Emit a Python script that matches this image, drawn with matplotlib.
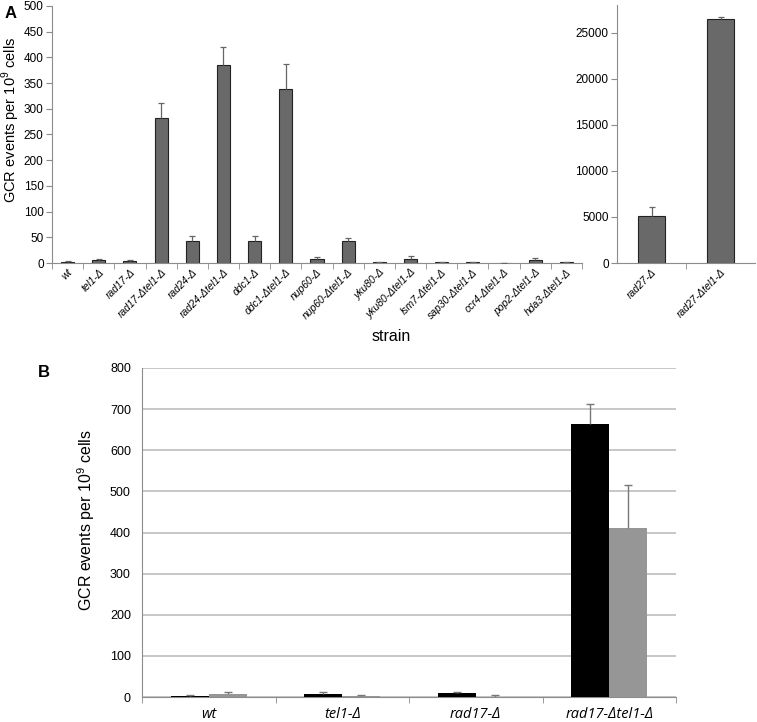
import numpy as np
import matplotlib.pyplot as plt

# panel A, left part
strains_a = ['wt', 'tel1-Δ', 'rad17-Δ', 'rad17-Δtel1-Δ', 'rad24-Δ', 'rad24-Δtel1-Δ',
             'ddc1-Δ', 'ddc1-Δtel1-Δ', 'nup60-Δ', 'nup60-Δtel1-Δ', 'yku80-Δ',
             'yku80-Δtel1-Δ', 'lsm7-Δtel1-Δ', 'sap30-Δtel1-Δ', 'ccr4-Δtel1-Δ',
             'pop2-Δtel1-Δ', 'hda3-Δtel1-Δ']
gcr_a = [2, 6, 4, 283, 42, 386, 42, 338, 7, 43, 1, 7, 1, 1.5, 0, 5, 1]
err_a = [2, 1, 2, 29, 11, 35, 11, 50, 5, 6, 0.5, 6, 0.3, 1, 0, 5, 0.3]

# panel A, right part
strains_r = ['rad27-Δ', 'rad27-Δtel1-Δ']
gcr_r = [5130, 26440]
err_r = [900, 220]

# panel B
strains_b = ['wt', 'tel1-Δ', 'rad17-Δ', 'rad17-Δtel1-Δ']
gcr_b1 = [3, 6.5, 10, 664]
err_b1 = [1, 6.5, 2, 48]
gcr_b2 = [6.5, 3, 0.5, 410]
err_b2 = [6.5, 3, 3.5, 105]

plt.rcParams['font.family'] = ['Liberation Sans', 'DejaVu Sans']
plt.rcParams['mathtext.fontset'] = 'custom'
plt.rcParams['mathtext.rm'] = 'Liberation Sans'
spine_col = '#8c8c8c'

fig = plt.figure(figsize=(7.57, 7.22), dpi=100)


def up_err(ax, xs, ys, es, col, lw, ms):
    # upper-only error bars with a single cap
    tops = np.array(ys) + np.array(es)
    ax.vlines(xs, ys, tops, color=col, linewidth=lw, zorder=4)
    ax.plot(xs, tops, ls='none', marker='_', markersize=ms, mew=lw, color=col, zorder=4)


def style_a(ax):
    for s in ['top', 'right']:
        ax.spines[s].set_visible(False)
    for s in ['left', 'bottom']:
        ax.spines[s].set_color(spine_col)
    ax.tick_params(axis='y', colors=spine_col, labelcolor='black', labelsize=8.5,
                   length=4, pad=2)
    ax.tick_params(axis='x', which='major', length=0, pad=3)
    ax.tick_params(axis='x', which='minor', colors=spine_col, length=4)

# ---- A left
axA = fig.add_axes([52/757, 1 - 263/722, 530/757, 257/722])
x = np.arange(len(strains_a))
axA.bar(x, gcr_a, width=0.42, color='#696969', edgecolor='#222222', linewidth=0.8)
up_err(axA, x, gcr_a, err_a, '#666666', 0.9, 5)
axA.set_xlim(-0.5, len(strains_a) - 0.5)
axA.set_ylim(0, 500)
axA.set_yticks(np.arange(0, 501, 50))
axA.set_xticks(x)
axA.set_xticks(np.arange(-0.5, len(strains_a), 1), minor=True)
axA.set_xticklabels(strains_a, rotation=45, ha='right', rotation_mode='anchor',
                    fontsize=7.5, style='italic')
style_a(axA)
axA.set_ylabel('GCR events per 10$^9$ cells', fontsize=10.5)
axA.yaxis.set_label_coords(-0.056, 0.556)
axA.set_xlabel('strain', fontsize=11.5)
axA.xaxis.set_label_coords(0.64, -0.255)
fig.text(5/757, 1 - 14/722, 'A', fontsize=12, fontweight='bold', va='center')

# ---- A right
axR = fig.add_axes([617/757, 1 - 263/722, 138/757, 258/722])
xr = np.arange(len(strains_r))
axR.bar(xr, gcr_r, width=0.4, color='#696969', edgecolor='#222222', linewidth=0.8)
up_err(axR, xr, gcr_r, err_r, '#666666', 0.9, 5)
axR.set_xlim(-0.5, 1.5)
axR.set_ylim(0, 28000)
axR.set_yticks(np.arange(0, 25001, 5000))
axR.set_xticks(xr)
axR.set_xticks([0.5], minor=True)
axR.set_xticklabels(strains_r, rotation=45, ha='right', rotation_mode='anchor',
                    fontsize=7.5, style='italic')
style_a(axR)

# ---- B
axB = fig.add_axes([142/757, 1 - 697/722, 534/757, 329/722])
xb = np.arange(len(strains_b))
bw = 0.285
axB.bar(xb - bw / 2, gcr_b1, width=bw, color='black', zorder=3)
axB.bar(xb + bw / 2, gcr_b2, width=bw, color='#969696', zorder=3)
up_err(axB, xb - bw / 2, gcr_b1, err_b1, '#777777', 1, 6)
up_err(axB, xb + bw / 2, gcr_b2, err_b2, '#777777', 1, 6)
axB.set_xlim(-0.5, len(strains_b) - 0.5)
axB.set_ylim(0, 800)
axB.set_yticks(np.arange(0, 801, 100))
axB.yaxis.grid(True, color='#bdbdbd', linewidth=1.2, zorder=0)
axB.set_axisbelow(True)
axB.set_xticks(xb)
axB.set_xticks(np.arange(-0.5, len(strains_b), 1), minor=True)
axB.set_xticklabels(strains_b, fontsize=10.5, style='italic',
                    family=['Open Sans', 'DejaVu Sans'])
for s in ['top', 'right']:
    axB.spines[s].set_visible(False)
for s in ['left', 'bottom']:
    axB.spines[s].set_color(spine_col)
axB.tick_params(axis='y', length=0, labelsize=9, pad=8)
axB.tick_params(axis='x', which='major', length=0, pad=7)
axB.tick_params(axis='x', which='minor', colors=spine_col, length=4)
axB.set_ylabel('GCR events per 10$^9$ cells', fontsize=11.5)
axB.yaxis.set_label_coords(-0.084, 0.538)
fig.text(38/757, 1 - 373/722, 'B', fontsize=12, fontweight='bold', va='center')

fig.savefig('out.png', dpi=100)
